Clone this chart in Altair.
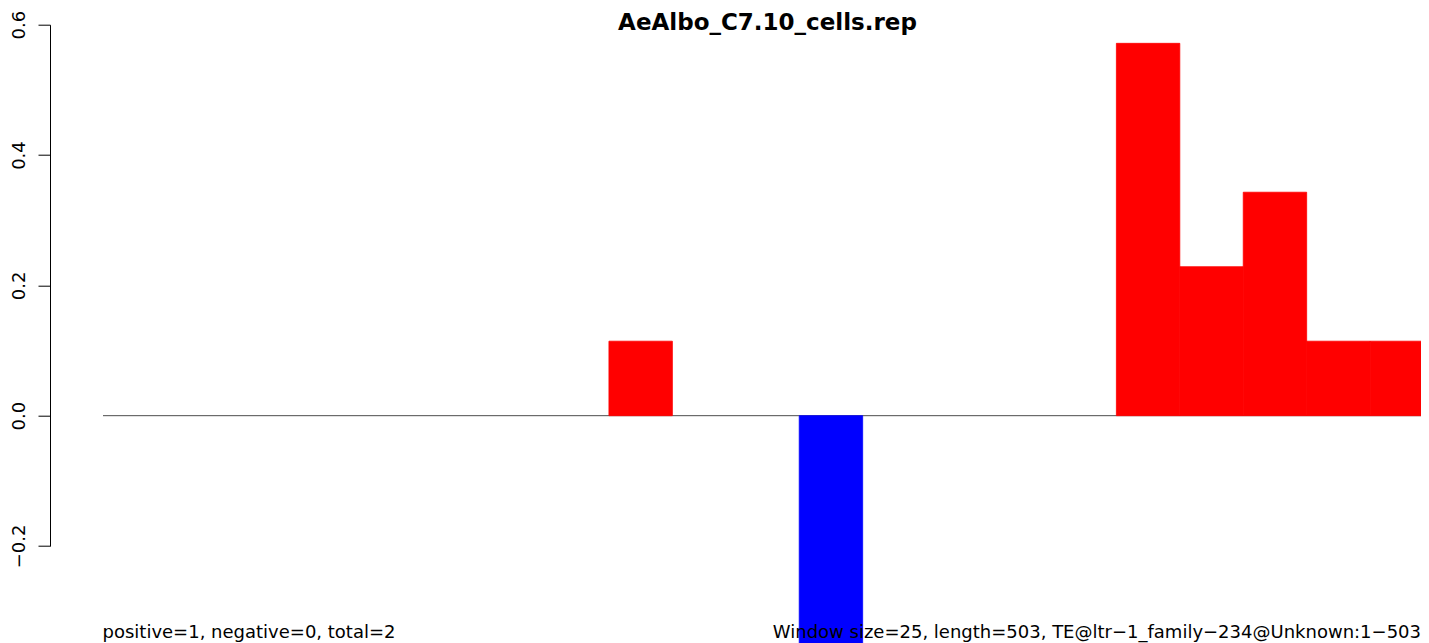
import altair as alt
import pandas as pd

# ---- data ----
window_index = list(range(21))
window_values = [0, 0, 0, 0, 0, 0, 0, 0, 0.1143, 0, 0, -0.4571, 0, 0, 0, 0,
                 0.5714, 0.2286, 0.3429, 0.1143, 0.1143]
y_ticks = [-0.2, 0.0, 0.2, 0.4, 0.6]
title_text = "AeAlbo_C7.10_cells.rep"
left_note = "positive=1, negative=0, total=2"
right_note = "Window size=25, length=503, TE@ltr\u22121_family\u2212234@Unknown:1\u2212503"

df = pd.DataFrame({"window": window_index, "value": window_values})

PW = 1319.5
PH = 521.3
BAR_PX = 63.43
FONT = "DejaVu Sans"

x_scale = alt.Scale(domain=[0, PW / BAR_PX], nice=False, zero=False)
y_scale = alt.Scale(domain=[-0.2, 0.6], nice=False, zero=False)

baseline = alt.Chart(df).mark_rule(color="#4d4d4d", strokeWidth=1).encode(
    x=alt.value(1.5), x2=alt.value(PW),
    y=alt.datum(0, scale=y_scale),
).transform_filter("datum.window == 0")

bar_color = alt.condition("datum.value > 0", alt.value("#FF0000"), alt.value("#0000FF"))

bars = alt.Chart(df).transform_filter("datum.value != 0").transform_calculate(
    end="datum.window + 1"
).mark_rect(strokeWidth=0.8).encode(
    x=alt.X("window:Q", scale=x_scale, axis=None),
    x2="end:Q",
    y=alt.Y("value:Q", scale=y_scale,
            axis=alt.Axis(values=y_ticks, format=".1f", title=None, grid=False,
                          offset=51.5, tickSize=12, tickColor="black", tickWidth=1,
                          domainColor="black", domainWidth=1,
                          labelAngle=270, labelAlign="center", labelBaseline="alphabetic",
                          labelPadding=13.3, labelFont=FONT, labelFontSize=18,
                          labelColor="black")),
    y2=alt.datum(0),
    color=bar_color,
    stroke=bar_color,
)

title = alt.Chart(pd.DataFrame({"t": [title_text]})).mark_text(
    font=FONT, fontSize=23, fontWeight="bold", align="center", baseline="alphabetic",
    color="black"
).encode(x=alt.value(666), y=alt.value(4.8), text="t:N")

left_txt = alt.Chart(pd.DataFrame({"t": [left_note]})).mark_text(
    font=FONT, fontSize=18, align="left", baseline="alphabetic", color="black"
).encode(x=alt.value(1), y=alt.value(613.3), text="t:N")

right_txt = alt.Chart(pd.DataFrame({"t": [right_note]})).mark_text(
    font=FONT, fontSize=18, align="right", baseline="alphabetic", color="black"
).encode(x=alt.value(PW), y=alt.value(613.3), text="t:N")

chart = alt.layer(baseline, bars, title, left_txt, right_txt).properties(
    width=PW, height=PH,
    autosize="none",
    padding={"left": 93.5, "top": 16.7, "right": 0, "bottom": 97},
    background="white",
).configure_view(stroke=None)

chart.save("out.html", embed_options={"renderer": "svg", "actions": False})
